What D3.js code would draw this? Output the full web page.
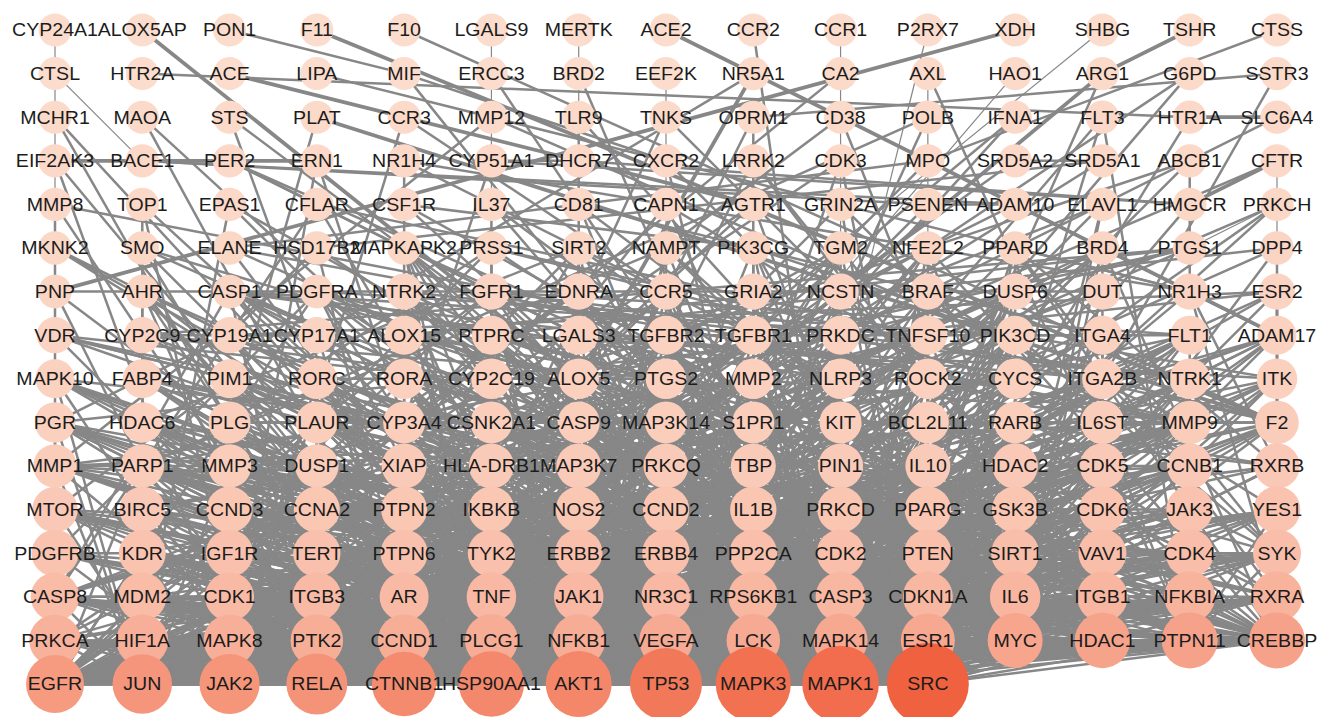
<!DOCTYPE html>
<html>
<head>
<meta charset="utf-8">
<script src="https://cdn.jsdelivr.net/npm/d3@7"></script>
<style>
  body { margin: 0; background: #fff; }
  svg { display: block; }
</style>
</head>
<body>
<svg width="1319" height="717"></svg>
<script>
// grid rows of the network, lowest degree first (Cytoscape degree-sorted grid)
const nodeRows = [
  'CYP24A1 ALOX5AP PON1 F11 F10 LGALS9 MERTK ACE2 CCR2 CCR1 P2RX7 XDH SHBG TSHR CTSS',
  'CTSL HTR2A ACE LIPA MIF ERCC3 BRD2 EEF2K NR5A1 CA2 AXL HAO1 ARG1 G6PD SSTR3',
  'MCHR1 MAOA STS PLAT CCR3 MMP12 TLR9 TNKS OPRM1 CD38 POLB IFNA1 FLT3 HTR1A SLC6A4',
  'EIF2AK3 BACE1 PER2 ERN1 NR1H4 CYP51A1 DHCR7 CXCR2 LRRK2 CDK3 MPO SRD5A2 SRD5A1 ABCB1 CFTR',
  'MMP8 TOP1 EPAS1 CFLAR CSF1R IL37 CD81 CAPN1 AGTR1 GRIN2A PSENEN ADAM10 ELAVL1 HMGCR PRKCH',
  'MKNK2 SMO ELANE HSD17B2 MAPKAPK2 PRSS1 SIRT2 NAMPT PIK3CG TGM2 NFE2L2 PPARD BRD4 PTGS1 DPP4',
  'PNP AHR CASP1 PDGFRA NTRK2 FGFR1 EDNRA CCR5 GRIA2 NCSTN BRAF DUSP6 DUT NR1H3 ESR2',
  'VDR CYP2C9 CYP19A1 CYP17A1 ALOX15 PTPRC LGALS3 TGFBR2 TGFBR1 PRKDC TNFSF10 PIK3CD ITGA4 FLT1 ADAM17',
  'MAPK10 FABP4 PIM1 RORC RORA CYP2C19 ALOX5 PTGS2 MMP2 NLRP3 ROCK2 CYCS ITGA2B NTRK1 ITK',
  'PGR HDAC6 PLG PLAUR CYP3A4 CSNK2A1 CASP9 MAP3K14 S1PR1 KIT BCL2L11 RARB IL6ST MMP9 F2',
  'MMP1 PARP1 MMP3 DUSP1 XIAP HLA-DRB1 MAP3K7 PRKCQ TBP PIN1 IL10 HDAC2 CDK5 CCNB1 RXRB',
  'MTOR BIRC5 CCND3 CCNA2 PTPN2 IKBKB NOS2 CCND2 IL1B PRKCD PPARG GSK3B CDK6 JAK3 YES1',
  'PDGFRB KDR IGF1R TERT PTPN6 TYK2 ERBB2 ERBB4 PPP2CA CDK2 PTEN SIRT1 VAV1 CDK4 SYK',
  'CASP8 MDM2 CDK1 ITGB3 AR TNF JAK1 NR3C1 RPS6KB1 CASP3 CDKN1A IL6 ITGB1 NFKBIA RXRA',
  'PRKCA HIF1A MAPK8 PTK2 CCND1 PLCG1 NFKB1 VEGFA LCK MAPK14 ESR1 MYC HDAC1 PTPN11 CREBBP',
  'EGFR JUN JAK2 RELA CTNNB1 HSP90AA1 AKT1 TP53 MAPK3 MAPK1 SRC'
];

const degreeRows = [
  [1,1,1,1,1,1,1,1,1,1,1,1,1,1,1],
  [1,1,1,1,1,1,1,1,2,2,2,2,2,2,2],
  [2,2,2,2,2,2,2,2,2,2,3,3,3,3,3],
  [3,3,3,3,3,3,3,3,3,3,3,3,3,3,3],
  [3,3,3,3,3,3,3,3,4,4,4,4,4,4,4],
  [4,4,4,4,4,4,4,5,5,5,5,5,5,5,5],
  [5,5,5,5,6,6,6,6,6,6,6,6,6,6,6],
  [6,6,6,6,7,7,7,7,7,7,7,7,7,7,7],
  [7,7,7,8,8,8,8,8,8,8,8,8,8,8,8],
  [8,8,9,9,9,9,9,9,9,9,9,9,10,10,10],
  [10,10,10,10,11,11,11,11,11,11,11,12,12,12,12],
  [12,12,13,13,13,13,13,14,14,14,14,14,15,15,15],
  [15,15,16,16,16,16,17,17,17,17,17,18,18,18,18],
  [19,19,20,20,20,21,21,21,22,22,22,23,23,24,24],
  [25,26,26,27,27,28,28,29,29,30,30,32,33,34,34],
  [38,40,41,42,47,48,49,57,61,63,70]
];

// edges: first name is the source, the rest its targets (* thick, ~ thin)
const edgeList = [
  'CYP24A1 VDR~', 'ALOX5AP ALOX5*', 'PON1 MIF', 'F11 F2*', 'F10 F2', 'LGALS9 TNF~',
  'MERTK AKT1~', 'ACE2 ADAM17*', 'CCR2 MAPK14', 'CCR1 MAPK1~', 'P2RX7 NLRP3~',
  'XDH PNP*', 'SHBG AR~', 'TSHR ARG1*', 'CTSS MPO',
  'CTSL BACE1~', 'HTR2A HTR1A', 'ACE AGTR1*', 'LIPA NR1H3', 'MIF CXCR2 IL1B',
  'ERCC3 TBP', 'BRD2 MAPK1', 'EEF2K TP53~', 'NR5A1 CTNNB1* CYP17A1', 'CA2 HIF1A',
  'AXL SRC~ PTPN11', 'HAO1 MMP2~', 'ARG1 NOS2* IL10', 'G6PD TP53 NFE2L2', 'SSTR3 OPRM1 SRC',
  'MCHR1 PLG AKT1', 'MAOA NR3C1 AR', 'STS AR ESR1', 'PLAT PLG F2*', 'CCR3 CCR5 JAK2',
  'MMP12 MMP1 MMP9', 'TLR9 NFKB1 IL6', 'TNKS CTNNB1 PTPN11', 'OPRM1 PLCG1 MAPK3',
  'CD38 NAMPT SIRT1', 'POLB PARP1 TP53', 'IFNA1 TYK2 JAK1', 'FLT3 KIT PTPN11 SRC',
  'HTR1A SLC6A4* MAPK1', 'SLC6A4 ITGB3',
  'EIF2AK3 ERN1* MAPK8 HSP90AA1', 'BACE1 PSENEN ADAM10', 'PER2 PPARG SIRT1 GSK3B',
  'ERN1 MAPK8 HSP90AA1', 'NR1H4 NR1H3 RXRA CYP3A4', 'CYP51A1 HMGCR DHCR7 CYP3A4',
  'DHCR7 HMGCR', 'CXCR2 IL1B PIK3CG', 'LRRK2 GSK3B ROCK2 HSP90AA1', 'CDK3 CDKN1A CCNA2 TP53',
  'MPO ELANE NOS2', 'SRD5A2 AR SRD5A1', 'SRD5A1 AR HSD17B2', 'ABCB1 CYP3A4 NR1H3 TP53',
  'CFTR CREBBP~ HMGCR* EGFR',
  'MMP8 MMP1 MMP9 MMP3', 'TOP1 PARP1 TP53 CDK1', 'EPAS1 HIF1A VEGFA MYC',
  'CFLAR CASP8 NFKB1 TNFSF10', 'CSF1R SRC PTPN11 PIK3CG', 'IL37 IL1B TNF IL6',
  'CD81 ITGB1 ITGA4 LCK', 'CAPN1 CDK5 CASP3 PTK2', 'AGTR1 JAK2 EGFR SRC',
  'GRIN2A GRIA2 SRC CDK5', 'PSENEN NCSTN ADAM10', 'ADAM10 NCSTN ADAM17',
  'ELAVL1 PTGS2 SIRT1 VEGFA MYC', 'HMGCR PPARG', 'PRKCH PRKCD PRKCQ PTGS1~ CASP3',
  'MKNK2 MAPK1 MAPK3 MAPK14', 'SMO GSK3B CTNNB1 AKT1 MYC', 'ELANE MMP9 TNF IL6',
  'HSD17B2 ESR1 AR CYP19A1', 'MAPKAPK2 MAPK14 MAPK3 TP53 TNF AKT1', 'PRSS1 F2 PLG MMP9 IL6',
  'SIRT2 HDAC6 SIRT1 TP53 RELA', 'NAMPT SIRT1 PARP1 IL6 AKT1', 'PIK3CG AKT1 PTEN PIK3CD',
  'TGM2 NFKB1 ITGB1 TP53 CASP3 RELA', 'NFE2L2 AKT1 CREBBP NFKB1 GSK3B PPARG',
  'PPARD RXRA PPARG CREBBP RXRB NR1H3', 'BRD4 MYC RELA CCND1 TP53 CREBBP',
  'PTGS1 PTGS2 ALOX5 CYP2C9 NOS2', 'DPP4 PTPRC TNF IL6 SYK',
  'PNP DUT PARP1 AKT1', 'AHR ESR1 HSP90AA1 RELA CYP19A1 AR', 'CASP1 NLRP3 IL1B CASP3 CASP8 TNF',
  'PDGFRA PDGFRB PLCG1 SRC PTPN11 KIT', 'NTRK2 NTRK1 PLCG1 AKT1 MAPK1 PTPN11',
  'FGFR1 PLCG1 SRC EGFR PTPN11 KDR MAPK3', 'EDNRA MAPK1 EGFR PLCG1 NOS2 SRC',
  'CCR5 JAK2 PTK2 TNF LCK', 'GRIA2 PRKCA MAPK3 SRC PRKCQ', 'NCSTN ERBB4 CTNNB1 AKT1',
  'BRAF MAPK1 MAPK3 EGFR AKT1 YES1', 'DUSP6 MAPK1 MAPK3 MAPK14 MAPK8 EGFR', 'DUT TP53 CDK1 MYC',
  'NR1H3 RXRA RXRB PPARG', 'ESR2 ESR1 CREBBP PGR AKT1 RXRA CTNNB1',
  'VDR RXRA RXRB CREBBP CTNNB1 CYP3A4 ESR1', 'CYP2C9 CYP2C19 CYP3A4 CYP17A1 PTGS2 NR3C1',
  'CYP19A1 ESR1 AR CYP17A1 CYP3A4 PGR ESR2', 'CYP17A1 AR CYP3A4 ESR1',
  'ALOX15 ALOX5 PTGS2 PPARG IL1B IL10 TP53', 'PTPRC LCK JAK1 SRC SYK VAV1 PTPN6',
  'LGALS3 ITGB1 CTNNB1 AKT1 MMP9 TNF', 'TGFBR2 TGFBR1 MAP3K7 AKT1 SRC CTNNB1',
  'TGFBR1 MAP3K7 PPP2CA MAPK14 CREBBP TP53 JUN', 'PRKDC TP53 PARP1 AKT1 HSP90AA1 MYC',
  'TNFSF10 CASP8 CASP3 BCL2L11 CASP9 NFKB1', 'PIK3CD AKT1 PTEN SYK LCK KIT SRC',
  'ITGA4 ITGB1 PTK2 SYK', 'FLT1 VEGFA KDR PLCG1 PTPN11 SRC PIK3CD',
  'ADAM17 TNF EGFR IL6ST ERBB4 MAPK14',
  'MAPK10 JUN MAPK8 TP53 MAPK1 DUSP1 AKT1 PIN1', 'FABP4 PPARG RXRA HDAC6 IL6 TNF',
  'PIM1 MYC JAK2 CDKN1A MTOR AKT1 HSP90AA1', 'RORC RORA IL6 TNF NR3C1 CREBBP IL1B',
  'RORA CREBBP HIF1A CTNNB1 PPARG SIRT1 ESR1', 'CYP2C19 CYP3A4 NR3C1 ESR1',
  'ALOX5 PTGS2 MAPK14 PPARG TNF IL6',
  'PTGS2 NFKB1 TNF IL6 IL1B MAPK14 PPARG VEGFA NOS2 AKT1 JUN RELA',
  'MMP2 MMP9 MMP1 MMP3 VEGFA ITGB3 PTK2 TNF', 'NLRP3 IL1B NFKB1 TNF CASP8 HSP90AA1 MAPK8',
  'ROCK2 PTEN MAPK1 PTK2 AKT1 GSK3B', 'CYCS CASP9 CASP3 XIAP TP53 BCL2L11',
  'ITGA2B ITGB3 SYK PTK2 F2 SRC', 'NTRK1 PLCG1 PTPN11 AKT1 HSP90AA1 SRC MAPK3',
  'ITK LCK PLCG1 VAV1 PTPN6 PIK3CD SYK',
  'PGR ESR1 SRC CREBBP MAPK1 CCND1 EGFR AR', 'HDAC6 HDAC1 HSP90AA1 AKT1 MAPK3 SIRT1 TP53 CTNNB1',
  'PLG PLAUR F2 MMP9 MMP3 ITGB3', 'PLAUR ITGB1 ITGB3 EGFR MMP9 SRC PTK2', 'CYP3A4 NR3C1 ESR1 AR',
  'CSNK2A1 TP53 CTNNB1 AKT1 PTEN JUN MYC RELA NFKBIA', 'CASP9 CASP3 XIAP AKT1 CASP8 TP53 MAPK1',
  'MAP3K14 IKBKB NFKB1 RELA NFKBIA MAP3K7 TNF', 'S1PR1 AKT1 SRC MAPK1 VEGFA PLCG1 EGFR MAPK3 JAK2',
  'KIT PTPN11 PLCG1 JAK2 PTPN6 VAV1 SRC MAPK1', 'BCL2L11 MAPK8 AKT1 CASP3 MAPK1 TP53',
  'RARB RXRA RXRB CREBBP HDAC1 ESR1 TP53 CDKN1A', 'IL6ST IL6 JAK1 JAK2 TYK2 PTPN11 SRC',
  'MMP9 MMP1 MMP3 TNF NFKB1 VEGFA EGFR IL1B IL6 PTK2', 'F2 ITGB3 PLAUR MMP9 SRC VEGFA',
  // middle rows to the hubs
  'SIRT2 AKT1 MAPK1 CDK1', 'NAMPT TP53 MAPK1 NFKB1', 'TGM2 AKT1 EGFR SRC', 'NFE2L2 TP53 MAPK1 JUN',
  'PPARD AKT1 ESR1 SIRT1', 'BRD4 JUN AKT1 HDAC1', 'PIK3CG SRC MAPK1 MAPK3', 'PRSS1 TNF EGFR',
  'MAPKAPK2 MAPK1 HSP90AA1 CREBBP', 'AHR JUN TP53 CTNNB1', 'CASP1 TP53 MAPK14 RELA CASP9',
  'PDGFRA AKT1 MAPK1 EGFR PIK3CD', 'NTRK2 SRC MAPK3', 'FGFR1 AKT1 MAPK1 FLT1 NTRK1',
  'EDNRA AKT1 MAPK3 PRKCA', 'CCR5 MAPK1 AKT1 SRC', 'GRIA2 MAPK1 AKT1', 'NCSTN MAPK1 TP53',
  'BRAF SRC TP53', 'DUSP6 SRC AKT1', 'PTPRC AKT1 MAPK1 MAPK3 JAK2 ITK',
  'LGALS3 SRC MAPK1 TP53 ITGA2B', 'TGFBR2 TP53 MAPK1 JUN MAPK14', 'TGFBR1 AKT1 SRC MAPK1 MAPK3 ITGA4',
  'PRKDC MAPK1 SRC JUN', 'TNFSF10 TP53 AKT1 MAPK1 RELA CASP1', 'PIK3CD MAPK1 MAPK3 EGFR',
  'ITGA4 SRC AKT1 MAPK1', 'FLT1 AKT1 MAPK1 MAPK3', 'ADAM17 SRC AKT1 MAPK1',
  'FABP4 AKT1 MAPK1 TP53', 'PIM1 TP53 SRC MAPK1', 'RORC JAK2 RELA AKT1', 'RORA TP53 AKT1 NFKB1',
  'ALOX5 MAPK1 AKT1 MAPK3', 'PTGS2 TP53 MAPK1 MAPK3 EGFR PTPRC CYP2C19',
  'MMP2 SRC AKT1 TP53 MAPK1 MAPK3 EGFR', 'NLRP3 TP53 RELA JUN', 'ROCK2 SRC TP53 MAPK3',
  'CYCS AKT1 MAPK1 JUN CASP1', 'ITGA2B AKT1 MAPK1', 'ITK SRC AKT1 MAPK1', 'PGR TP53 AKT1 MAPK3 JUN',
  'PLG SRC AKT1 MAPK1 TP53', 'PLAUR AKT1 MAPK1 MAPK3', 'CYP3A4 TP53 AKT1 MAPK1', 'CSNK2A1 SRC MAPK1',
  'CASP9 MAPK3 JUN', 'MAP3K14 TP53 AKT1 MAPK1', 'BCL2L11 SRC JUN', 'IL6ST AKT1 MAPK1 MAPK3',
  'F2 AKT1 MAPK1 MAPK3 EGFR TP53', 'MAPK10 SRC MAPK3', 'HDAC6 SRC MAPK1', 'ALOX15 PTGS1',
  // lower rows
  'MMP1 MMP3 TNF IL1B IL6 JUN MAPK14 NFKB1 TP53',
  'PARP1 TP53 NFKB1 RELA HDAC1 CASP3 SIRT1 AKT1 MAPK1 CREBBP',
  'MMP3 TNF IL1B IL6 NFKB1 JUN MAPK8 ITGB1', 'DUSP1 MAPK14 MAPK8 MAPK1 MAPK3 NR3C1 JUN TNF',
  'XIAP CASP3 CASP8 BIRC5 TP53 AKT1 MDM2 NFKB1', 'HLA-DRB1 TNF IL10 IL6 LCK PTPN6 IL1B',
  'MAP3K7 IKBKB NFKB1 RELA NFKBIA MAPK14 MAPK8 JUN TNF', 'PRKCQ LCK NFKB1 RELA VAV1 IKBKB PRKCA PLCG1',
  'TBP TP53 CREBBP MYC JUN HDAC1 AR', 'PIN1 TP53 CTNNB1 MYC JUN CCND1 GSK3B CDK1',
  'IL10 TNF IL6 IL1B JAK1 TYK2 NFKB1 NOS2', 'HDAC2 HDAC1 TP53 CREBBP RELA MYC SIRT1 ESR1 CDKN1A',
  'CDK5 GSK3B CTNNB1 TP53 CDK1 MAPK1 ERBB4', 'CCNB1 CDK1 CDK2 TP53 CDKN1A PIN1 CCNA2 MDM2',
  'RXRB RXRA PPARG CREBBP NR3C1',
  'MTOR AKT1 RPS6KB1 HIF1A PTEN TP53 MAPK1 MAPK3 VEGFA EGFR', 'BIRC5 CASP3 TP53 AKT1 CDK1 MYC CCND1 CASP9',
  'CCND3 CDK4 CDK6 CDK2 CDKN1A MYC', 'CCNA2 CDK2 CDK1 CDKN1A CDK4 MYC TP53',
  'PTPN2 JAK1 JAK2 EGFR SRC TYK2 JAK3 IGF1R', 'IKBKB NFKBIA RELA NFKB1 AKT1 TNF TP53 CREBBP',
  'NOS2 NFKB1 TNF IL6 IL1B AKT1 HIF1A JUN', 'CCND2 CDK4 CDK6 CDK2 MYC CDKN1A CTNNB1',
  'IL1B TNF IL6 NFKB1 MAPK14 JUN MAPK8 RELA', 'PRKCD PRKCA MAPK1 MAPK3 TP53 SRC AKT1 PTK2 EGFR',
  'PPARG RXRA CREBBP NFKB1 HDAC1 ESR1 SIRT1 TNF IL6', 'GSK3B CTNNB1 AKT1 MAPK1 TP53 MYC JUN CCND1 MAPK8',
  'CDK6 CDK4 CCND1 CDKN1A MYC TP53', 'JAK3 JAK1 JAK2 TYK2 LCK SYK IL6', 'YES1 SRC EGFR PTK2 LCK SYK CTNNB1 JAK2',
  'PDGFRB SRC PLCG1 PTPN11 KDR EGFR AKT1 MAPK1 MAPK3 JAK2',
  'KDR VEGFA SRC PLCG1 PTK2 AKT1 MAPK1 MAPK3 HIF1A EGFR PTPN11',
  'IGF1R AKT1 EGFR SRC PTPN11 MAPK1 MAPK3 JAK2 ERBB2 ESR1', 'TERT TP53 MYC AKT1 HSP90AA1 CTNNB1 JUN MAPK1 CDKN1A',
  'PTPN6 LCK SYK JAK2 SRC JAK1 VAV1 EGFR KIT', 'TYK2 JAK1 JAK2 IL6 SRC EGFR',
  'ERBB2 EGFR ERBB4 SRC HSP90AA1 AKT1 PTK2 PLCG1 PTPN11 MAPK1 MAPK3 ESR1',
  'ERBB4 EGFR SRC PLCG1 AKT1 PTPN11 MAPK1', 'PPP2CA AKT1 TP53 MAPK1 MAPK3 CTNNB1 MYC GSK3B JUN',
  'CDK2 CDK1 CDKN1A TP53 CCND1 MYC CDK4', 'PTEN AKT1 TP53 PTK2 SRC MAPK1 EGFR HIF1A MTOR',
  'SIRT1 TP53 RELA HDAC1 CREBBP MYC HIF1A AKT1 ESR1', 'VAV1 LCK SYK SRC PLCG1 JAK2 EGFR',
  'CDK4 CCND1 CDKN1A TP53 MYC CDK1', 'SYK LCK SRC PLCG1 VAV1 JAK2 PTK2 MAPK1 ITGB3',
  'CASP8 CASP3 TNF TP53 NFKB1 RELA MAPK8 AKT1 JUN MAPK1 HSP90AA1',
  'MDM2 TP53 AKT1 CDKN1A MYC HDAC1 CREBBP ESR1 RELA CTNNB1 MAPK1',
  'CDK1 CDKN1A TP53 MYC CCND1 MAPK1 MAPK3 JUN AKT1 HSP90AA1', 'ITGB3 ITGB1 PTK2 SRC VEGFA KDR EGFR AKT1 MAPK1',
  'AR ESR1 CREBBP HSP90AA1 AKT1 CTNNB1 EGFR SRC MAPK1 JUN HDAC1 TP53 CCND1',
  'TNF IL6 NFKB1 RELA NFKBIA MAPK14 MAPK8 JUN AKT1 CASP3 TP53 MAPK1 MAPK3',
  'JAK1 JAK2 IL6 SRC EGFR MAPK1 AKT1', 'NR3C1 CREBBP HSP90AA1 RELA JUN ESR1 AR NFKB1 MAPK14 MAPK8',
  'RPS6KB1 AKT1 MTOR MAPK1 MAPK3 HIF1A EGFR PTEN',
  'CASP3 TP53 AKT1 MAPK1 MAPK3 JUN MAPK8 MAPK14 HSP90AA1 CTNNB1 PARP1',
  'CDKN1A TP53 MYC AKT1 CCND1 CREBBP MAPK1 HDAC1 JUN',
  'IL6 NFKB1 JAK2 RELA MAPK14 MAPK8 JUN AKT1 VEGFA HIF1A MAPK1 MAPK3',
  'ITGB1 PTK2 SRC EGFR AKT1 MAPK1 MAPK3 CTNNB1 VEGFA', 'NFKBIA RELA NFKB1 AKT1 TP53 MAPK14 CREBBP',
  'RXRA PPARG CREBBP ESR1 HDAC1 AR',
  'PRKCA EGFR SRC MAPK1 MAPK3 AKT1 PLCG1 PTK2 RELA TP53 JUN HSP90AA1 CTNNB1 PRKCD PRKCQ GSK3B',
  'HIF1A VEGFA AKT1 TP53 EGFR CREBBP HSP90AA1 MAPK1 MAPK3 RELA MYC JUN MTOR NOS2 PTEN SIRT1 IL6 RPS6KB1',
  'MAPK8 JUN TP53 MAPK14 AKT1 MAPK1 MAPK3 RELA HSP90AA1 CTNNB1 DUSP1 MAP3K7 IL1B NOS2 CASP8 TNF BCL2L11',
  'PTK2 SRC EGFR AKT1 MAPK1 MAPK3 PTPN11 PLCG1 JAK2 CTNNB1 ITGB3 ITGB1 PTEN SYK YES1 VAV1 KDR',
  'CCND1 CTNNB1 MYC TP53 JUN ESR1 AKT1 MAPK1 MAPK3 RELA HDAC1 CREBBP PIN1 CDK6 CDK4 CDK2 CDKN1A GSK3B PPARG',
  'PLCG1 EGFR SRC LCK PTPN11 MAPK1 MAPK3 AKT1 JAK2 PDGFRB KDR ERBB2 ERBB4 VAV1 SYK PRKCA',
  'NFKB1 RELA TP53 AKT1 JUN HDAC1 CREBBP MAPK14 MAPK3 MAPK1 MMP1 PARP1 MMP3 XIAP MAP3K7 PRKCQ IL10 HDAC2 IKBKB NOS2 IL1B PPARG SIRT1 TNF IL6 NFKBIA CASP8',
  'VEGFA EGFR AKT1 SRC MAPK1 MAPK3 JAK2 TP53 HSP90AA1 MAPK14 RELA KDR MMP2 MMP9 NOS2 PTK2 ITGB3 ITGB1 IL6 IL1B TNF',
  'LCK SRC JAK2 PTPN11 MAPK1 AKT1 MAPK14 PRKCQ PTPN6 VAV1 SYK JAK3 YES1 ITK',
  'MAPK14 TP53 JUN MAPK1 MAPK3 AKT1 RELA CREBBP HSP90AA1 EGFR MMP1 MMP3 DUSP1 MAP3K7 IL10 IL1B NOS2 PRKCD TNF IL6 CASP3 CDKN1A RPS6KB1 NR3C1',
  'ESR1 CREBBP AKT1 SRC EGFR CTNNB1 HDAC1 JUN MAPK1 MAPK3 TP53 HSP90AA1 RELA MYC PARP1 TBP HDAC2 PIN1 CCND3 PPARG GSK3B IGF1R ERBB2 SIRT1 MDM2 AR NR3C1 CDKN1A IL6 RXRA RXRB RARB PGR',
  'MYC TP53 CTNNB1 JUN HDAC1 CREBBP AKT1 MAPK1 MAPK3 RELA PIN1 TBP HDAC2 CDK5 CCNB1 BIRC5 CCND3 CCNA2 CCND2 GSK3B CDK6 TERT PPP2CA CDK2 SIRT1 CDK4 MDM2 CDK1 CDKN1A IL6',
  'HDAC1 TP53 RELA CREBBP MYC JUN CTNNB1 AKT1 SRC PARP1 TBP HDAC2 CCND3 PPARG SIRT1 MDM2 AR CDKN1A RXRA',
  'PTPN11 SRC EGFR JAK2 AKT1 MAPK1 MAPK3 PTPN2 JAK3 YES1 PDGFRB KDR IGF1R PTPN6 ERBB2 ERBB4 SYK JAK1 IL6 ITGB1',
  'CREBBP TP53 RELA CTNNB1 JUN AKT1 MAPK1 PARP1 TBP HDAC2 RXRB IKBKB PPARG SIRT1 MDM2 AR NR3C1 CDKN1A NFKBIA RXRA',
  'EGFR SRC MAPK1 MAPK3 AKT1 TP53 HSP90AA1 CTNNB1 JAK2 JUN RELA PARP1 DUSP1 CDK5 MTOR PTPN2 PRKCD GSK3B YES1 PDGFRB KDR IGF1R PTPN6 TYK2 ERBB2 ERBB4 PTEN SIRT1 VAV1 SYK CASP8 MDM2 CDK1 ITGB3 AR TNF JAK1 RPS6KB1 CASP3 CDKN1A IL6 ITGB1 NFKBIA RXRA PRKCA HIF1A MAPK8 PTK2 CCND1 PLCG1 NFKB1 VEGFA LCK MAPK14 ESR1 MYC HDAC1 PTPN11 CREBBP PGR PLAUR S1PR1 MMP9',
  'JUN TP53 MAPK1 MAPK3 AKT1 RELA CTNNB1 HSP90AA1 SRC JAK2 MMP1 MMP3 DUSP1 MAP3K7 TBP PIN1 IL10 HDAC2 CDK5 CCND3 IKBKB NOS2 CCND2 IL1B PRKCD PPARG GSK3B TERT PPP2CA PTEN SIRT1 CDK4 CASP8 MDM2 CDK1 AR TNF NR3C1 CASP3 CDKN1A IL6 ITGB1 NFKBIA RXRA PRKCA HIF1A MAPK8 PTK2 CCND1 NFKB1 VEGFA MAPK14 ESR1 MYC HDAC1 CREBBP MAPK10 BCL2L11 MMP9 PTGS2 CSNK2A1',
  'JAK2 SRC MAPK1 MAPK3 AKT1 TP53 RELA HSP90AA1 PTPN2 JAK3 YES1 PDGFRB KDR IGF1R PTPN6 TYK2 ERBB2 VAV1 SYK ITGB3 AR TNF JAK1 NR3C1 CASP3 IL6 ITGB1 RXRA PRKCA HIF1A MAPK8 PTK2 PLCG1 NFKB1 VEGFA LCK MAPK14 ESR1 MYC HDAC1 PTPN11 CREBBP IL6ST KIT S1PR1 PIM1 IL10 PRKCD',
  'RELA TP53 AKT1 MAPK1 MAPK3 CTNNB1 HSP90AA1 SRC MMP1 PARP1 MMP3 XIAP MAP3K7 PRKCQ IL10 HDAC2 BIRC5 IKBKB NOS2 IL1B PRKCD PPARG GSK3B PTEN SIRT1 CASP8 MDM2 CDK1 AR TNF JAK1 NR3C1 CASP3 CDKN1A IL6 ITGB1 NFKBIA RXRA PRKCA HIF1A MAPK8 PTK2 CCND1 NFKB1 VEGFA LCK MAPK14 ESR1 MYC HDAC1 CREBBP MAP3K14 CSNK2A1 MMP9 PTGS2 TGM2',
  'CTNNB1 TP53 AKT1 SRC MAPK1 MAPK3 HSP90AA1 MMP3 PARP1 DUSP1 MAP3K7 PIN1 HDAC2 CDK5 CCNB1 MTOR BIRC5 CCND3 CCND2 GSK3B CDK6 YES1 KDR IGF1R TERT ERBB2 PPP2CA CDK2 PTEN SIRT1 CDK4 MDM2 CDK1 ITGB3 AR TNF NR3C1 CASP3 CDKN1A IL6 ITGB1 NFKBIA RXRA PRKCA HIF1A MAPK8 PTK2 CCND1 PLCG1 NFKB1 VEGFA MAPK14 ESR1 MYC HDAC1 PTPN11 CREBBP CSNK2A1 PLAUR MMP9 LGALS3',
  'HSP90AA1 AKT1 TP53 SRC MAPK1 MAPK3 PARP1 XIAP MAP3K7 PIN1 HDAC2 CDK5 MTOR IKBKB NOS2 PPARG GSK3B CDK6 JAK3 KDR IGF1R TERT ERBB2 PTEN SIRT1 CDK4 SYK CASP8 MDM2 CDK1 ITGB3 AR TNF JAK1 NR3C1 RPS6KB1 CASP3 CDKN1A IL6 ITGB1 NFKBIA RXRA PRKCA HIF1A MAPK8 PTK2 CCND1 NFKB1 VEGFA LCK MAPK14 ESR1 MYC HDAC1 CREBBP HDAC6 KIT CSNK2A1 NTRK1 FLT1 NLRP3 PIM1 PRKDC AHR',
  'AKT1 TP53 SRC MAPK1 MAPK3 PARP1 DUSP1 XIAP PIN1 IL10 HDAC2 CDK5 CCNB1 MTOR BIRC5 CCND3 IKBKB NOS2 CCND2 IL1B PRKCD PPARG GSK3B CDK6 JAK3 YES1 PDGFRB KDR IGF1R TERT PTPN6 ERBB2 ERBB4 PPP2CA CDK2 PTEN SIRT1 VAV1 SYK CASP8 MDM2 CDK1 ITGB3 AR TNF JAK1 NR3C1 RPS6KB1 CASP3 CDKN1A IL6 ITGB1 NFKBIA PRKCA HIF1A MAPK8 PTK2 CCND1 PLCG1 NFKB1 VEGFA LCK MAPK14 ESR1 MYC HDAC1 PTPN11 CREBBP KIT S1PR1 CASP9 BCL2L11 PIK3CD FLT1 NTRK1 ROCK2 PIM1',
  'TP53 MAPK1 MAPK3 SRC MMP1 PARP1 MMP3 DUSP1 XIAP MAP3K7 TBP PIN1 IL10 HDAC2 CDK5 CCNB1 MTOR BIRC5 CCND3 CCNA2 IKBKB NOS2 CCND2 IL1B PRKCD PPARG GSK3B CDK6 TERT PTPN6 ERBB2 PPP2CA CDK2 PTEN SIRT1 CDK4 CASP8 MDM2 CDK1 AR TNF NR3C1 CASP3 CDKN1A IL6 ITGB1 NFKBIA RXRA PRKCA HIF1A MAPK8 PTK2 CCND1 NFKB1 VEGFA MAPK14 ESR1 MYC HDAC1 CREBBP HDAC6 CSNK2A1 CASP9 BCL2L11 RARB MMP9 MAPK10 PTGS2 MMP2 CYCS PRKDC TGFBR1',
  'MAPK3 MAPK1 SRC MMP1 PARP1 MMP3 DUSP1 XIAP MAP3K7 PRKCQ TBP PIN1 IL10 HDAC2 CDK5 CCNB1 MTOR BIRC5 CCND3 PTPN2 IKBKB NOS2 CCND2 IL1B PRKCD PPARG GSK3B CDK6 YES1 PDGFRB KDR IGF1R ERBB2 ERBB4 PPP2CA CDK2 PTEN SIRT1 VAV1 SYK CASP8 MDM2 CDK1 ITGB3 AR TNF JAK1 NR3C1 RPS6KB1 CASP3 CDKN1A IL6 ITGB1 NFKBIA RXRA PRKCA HIF1A MAPK8 PTK2 CCND1 PLCG1 NFKB1 VEGFA LCK MAPK14 ESR1 MYC HDAC1 PTPN11 CREBBP MMP9 KIT S1PR1 CASP9 BCL2L11 MMP2 PTGS2 HDAC6 ROCK2',
  'MAPK1 SRC MMP1 PARP1 MMP3 DUSP1 XIAP MAP3K7 PRKCQ PIN1 IL10 HDAC2 CDK5 CCNB1 RXRB MTOR BIRC5 PTPN2 IKBKB NOS2 CCND2 IL1B PRKCD PPARG GSK3B CDK6 JAK3 YES1 PDGFRB KDR IGF1R TERT PTPN6 TYK2 ERBB2 ERBB4 PPP2CA CDK2 PTEN SIRT1 VAV1 CDK4 SYK CASP8 MDM2 CDK1 ITGB3 AR TNF JAK1 NR3C1 RPS6KB1 CASP3 CDKN1A IL6 ITGB1 NFKBIA RXRA PRKCA HIF1A MAPK8 PTK2 CCND1 PLCG1 NFKB1 VEGFA LCK MAPK14 ESR1 MYC HDAC1 PTPN11 CREBBP MMP9 IL6ST RARB KIT S1PR1 MAP3K14 CSNK2A1 PLAUR PGR F2',
  'SRC PTPRC PIK3CD ITGA4 FLT1 ITGA2B NTRK1 ITK KIT S1PR1 PGR IL6ST F2 CSNK2A1 PRKCQ PIN1 CDK5 PARP1 DUSP1 XIAP HLA-DRB1 MTOR IKBKB PRKCD GSK3B JAK3 YES1 PDGFRB KDR IGF1R PTPN6 TYK2 ERBB2 ERBB4 PTEN SIRT1 VAV1 SYK CASP8 MDM2 CDK1 ITGB3 AR TNF JAK1 NR3C1 RPS6KB1 CASP3 CDKN1A IL6 ITGB1 NFKBIA RXRA PRKCA HIF1A MAPK8 PTK2 CCND1 PLCG1 NFKB1 VEGFA LCK MAPK14 ESR1 MYC HDAC1 PTPN11 CREBBP'
];

const width = 1319, height = 717;
const svg = d3.select('svg');

const nodes = [];
nodeRows.forEach((row, r) => {
  row.split(' ').forEach((id, c) => {
    nodes.push({ id, row: r, col: c, degree: degreeRows[r][c] });
  });
});
const nodeMap = new Map(nodes.map(d => [d.id, d]));

const links = [];
const seen = new Set();
edgeList.forEach(line => {
  const [source, ...targets] = line.split(' ');
  targets.forEach(t => {
    let w = 2.5;
    if (t.endsWith('*')) { w = 3.8; t = t.slice(0, -1); }
    else if (t.endsWith('~')) { w = 1.2; t = t.slice(0, -1); }
    if (!nodeMap.has(source) || !nodeMap.has(t)) { console.warn('missing', source, t); return; }
    const key = [source, t].sort().join('|');
    if (source === t || seen.has(key)) return;
    seen.add(key);
    links.push({ source: nodeMap.get(source), target: nodeMap.get(t), width: w });
  });
});

const x = d3.scaleLinear().domain([0, 14]).range([55, 1277]);
const y = d3.scaleLinear().domain([0, 15]).range([30, 684]);
const radius = d3.scaleLinear()
  .domain([1, 5, 7, 9, 11, 13, 18, 24, 34, 38, 49, 70])
  .range([16.5, 16.8, 19.5, 21, 22.5, 23, 24, 25.5, 28, 29, 33, 41]);
const color = d3.scaleLinear().domain([1, 70]).range(['#fcdccc', '#f0613f']);

svg.append('g')
  .attr('stroke', '#878787')
  .selectAll('line')
  .data(links)
  .enter().append('line')
  .attr('x1', d => x(d.source.col))
  .attr('y1', d => y(d.source.row))
  .attr('x2', d => x(d.target.col))
  .attr('y2', d => y(d.target.row))
  .attr('stroke-width', d => d.width);

// bigger nodes last so they sit on top
const ordered = nodes.slice().sort((a, b) => a.degree - b.degree);

svg.append('g')
  .selectAll('circle')
  .data(ordered)
  .enter().append('circle')
  .attr('cx', d => x(d.col))
  .attr('cy', d => y(d.row))
  .attr('r', d => radius(d.degree))
  .attr('fill', d => color(d.degree));

svg.append('g')
  .attr('font-family', '"Liberation Sans", Arial, sans-serif')
  .attr('font-size', 17.5)
  .attr('fill', '#1c1c1c')
  .attr('text-anchor', 'middle')
  .selectAll('text')
  .data(nodes)
  .enter().append('text')
  .attr('transform', d => `translate(${x(d.col)},${y(d.row)}) scale(1.12,1)`)
  .attr('dy', '0.36em')
  .text(d => d.id);
</script>
</body>
</html>
